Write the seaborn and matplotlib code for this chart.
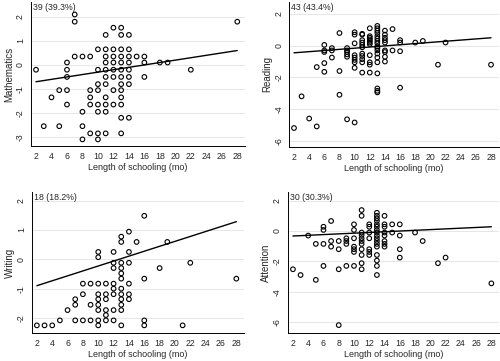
import matplotlib
matplotlib.use("Agg")
import pandas as pd
import matplotlib.pyplot as plt
import seaborn as sns

# ------------------------------------------------------------------
# DATA  (scores grouped by length of schooling in months)
# ------------------------------------------------------------------

MATH = {
    2: [-0.2], 3: [-2.55], 4: [-1.35], 5: [-1.05, -2.55],
    6: [0.1, -0.2, -0.5, -1.05, -1.65], 7: [2.1, 1.8, 0.35],
    8: [0.35, -1.95, -2.55, -3.1], 9: [0.35, -1.05, -1.35, -1.65, -2.85],
    10: [0.65, -0.2, -0.8, -1.05, -1.65, -1.95, -2.85, -3.1],
    11: [1.25, 0.65, 0.35, 0.1, -0.2, -0.5, -0.8, -1.35, -1.65, -1.95, -2.85],
    12: [1.55, 0.65, 0.35, 0.1, -0.2, -0.5, -1.05, -1.65],
    13: [1.55, 1.25, 0.65, 0.35, 0.1, -0.2, -0.5, -0.8, -1.05, -1.35,
         -1.65, -2.2, -2.85],
    14: [1.25, 0.65, 0.35, 0.1, -0.2, -0.5, -0.8, -2.2],
    15: [0.35], 16: [0.35, 0.1, -0.5], 18: [0.1], 19: [0.1], 22: [-0.2],
    28: [1.8],
}
MATH_FIT = [-0.70, 0.60]

READING = {
    2: [-5.2], 3: [-3.2], 4: [-4.6], 5: [-1.35, -5.1],
    6: [0.05, -0.3, -0.4, -1.1, -1.65], 7: [-0.15, -0.3, -0.75],
    8: [0.8, -1.6, -3.1], 9: [-0.15, -0.3, -0.4, -0.55, -0.7, -4.65],
    10: [0.85, 0.7, 0.15, -0.6, -0.75, -0.9, -1.05, -1.4, -4.85],
    11: [0.75, 0.7, 0.35, 0.2, 0.05, -0.1, -0.5, -0.65, -0.85, -1.05, -1.7],
    12: [1.1, 0.6, 0.5, 0.4, 0.3, 0.2, 0.1, -0.6, -1.05, -1.2, -1.7],
    13: [1.25, 1.1, 0.95, 0.8, 0.6, 0.45, 0.3, 0.15, -0.05, -0.15, -0.3,
         -0.5, -0.75, -1.05, -1.75, -2.7, -2.85, -2.95],
    14: [0.95, 0.7, 0.5, 0.35, 0.2, -0.3, -0.4, -0.7, -1.0],
    15: [1.05, -0.3], 16: [0.35, 0.2, -0.35, -2.65], 18: [0.2], 19: [0.3],
    21: [-1.2], 22: [0.2], 28: [-1.2],
}
READING_FIT = [-0.45, 0.50]

WRITING = {
    2: [-2.25], 3: [-2.25], 4: [-2.25], 5: [-2.08], 6: [-1.73],
    7: [-1.36, -1.55, -2.08], 8: [-0.83, -1.19, -2.08], 9: [-0.83, -1.55, -2.08],
    10: [0.25, 0.07, -0.83, -1.19, -1.36, -1.55, -1.73, -2.08, -2.25],
    11: [-0.83, -1.19, -1.36, -1.73, -1.9, -2.08],
    12: [0.25, -0.12, -0.3, -0.83, -1.0, -1.19, -1.73, -2.08],
    13: [0.77, 0.59, -0.12, -0.3, -0.48, -0.66, -1.0, -1.19, -1.36, -1.55,
         -1.73, -2.25],
    14: [0.94, 0.25, -0.12, -0.83, -1.19, -1.36],
    15: [0.59], 16: [1.48, -0.66, -2.08, -2.25], 18: [-0.3], 19: [0.59],
    21: [-2.25], 22: [-0.12], 28: [-0.66],
}
WRITING_FIT = [-0.90, 1.28]

ATTENTION = {
    2: [-2.52], 3: [-2.9], 4: [-0.3], 5: [-0.85, -3.22],
    6: [0.28, 0.07, -0.85, -2.3], 7: [0.66, -0.66, -1.03],
    8: [-0.66, -1.2, -2.52, -6.2], 9: [-0.48, -0.66, -0.85, -2.3],
    10: [0.44, 0.07, -0.48, -1.03, -1.2, -1.38, -2.3],
    11: [1.38, 1.0, -0.1, -0.26, -0.48, -0.66, -0.85, -1.2, -1.58, -2.12, -2.52],
    12: [0.44, 0.28, -0.1, -0.48, -1.2, -1.38, -1.58],
    13: [1.2, 1.0, 0.83, 0.66, 0.44, 0.28, 0.07, -0.1, -0.3, -0.48, -0.66,
         -0.85, -1.03, -1.58, -1.95, -2.3, -2.9],
    14: [1.0, 0.44, 0.28, -0.1, -0.3, -0.66, -0.85, -1.03],
    15: [0.44, -0.1], 16: [0.44, -0.3, -1.2, -1.75], 18: [-0.1], 19: [-0.66],
    21: [-2.12], 22: [-1.75], 28: [-3.45],
}
ATTENTION_FIT = [-0.33, 0.28]

FIT_X = [2, 28]
MONTH_TICKS = list(range(2, 29, 2))

LABELS = ["Mathematics", "Reading", "Writing", "Attention"]
COUNTS = ["39 (39.3%)", "43 (43.4%)", "18 (18.2%)", "30 (30.3%)"]
Y_TICKS = [[-3, -2, -1, 0, 1, 2], [-6, -4, -2, 0, 2],
           [-2, -1, 0, 1, 2], [-6, -4, -2, 0, 2]]

# ------------------------------------------------------------------
# LAYOUT (pixel boxes: left, right, top, bottom) and y ranges
# ------------------------------------------------------------------

W, H = 500, 361
BOXES = [(30.6, 245, 2, 146), (288.7, 498.6, 2, 146.7),
         (31.5, 244, 192, 333), (287.6, 499, 192, 333)]
YLIMS = [(-3.375, 2.62), (-6.38, 2.76), (-2.51, 2.29), (-6.72, 2.57)]
XLIM = (1.3, 29.0)

sns.set_style("white")
plt.rcParams["font.family"] = ["Liberation Sans", "DejaVu Sans"]
plt.rcParams["font.size"] = 6.3


def to_frame(groups: dict) -> pd.DataFrame:
    rows = [(m, v) for m, vals in groups.items() for v in vals]
    return pd.DataFrame(rows, columns=["months", "score"])


def draw_panel(fig, box, ylim, groups, fit, ylabel, count, yticks):
    l, r, t, b = box
    ax = fig.add_axes([l / W, 1 - b / H, (r - l) / W, (b - t) / H])
    df = to_frame(groups)

    for y in yticks:
        ax.axhline(y, color="#e6e6e6", lw=0.7, zorder=0)

    sns.scatterplot(data=df, x="months", y="score", ax=ax, marker="o",
                    s=11, facecolor="none", edgecolor="black",
                    linewidth=0.8, zorder=3)
    sns.lineplot(x=FIT_X, y=fit, ax=ax, color="black", lw=1.0, zorder=4)

    ax.set_xlim(*XLIM)
    ax.set_ylim(*ylim)
    ax.set_xticks(MONTH_TICKS)
    ax.set_yticks(yticks)
    ax.set_yticklabels([str(v) for v in yticks], rotation=90, va="center")
    ax.tick_params(axis="both", direction="out", length=3, width=0.7,
                   color="black", labelsize=6.3)
    ax.tick_params(axis="y", pad=1.0)
    ax.tick_params(axis="x", pad=1.5)

    for side in ["top", "right"]:
        ax.spines[side].set_visible(False)
    for side in ["left", "bottom"]:
        ax.spines[side].set_color("black")
        ax.spines[side].set_linewidth(0.7)

    ax.set_xlabel("Length of schooling (mo)", fontsize=6.5, labelpad=1.5)
    ax.set_ylabel(ylabel, fontsize=7.0, labelpad=1.5)
    ax.annotate(count, xy=(0, 1), xycoords="axes fraction",
                xytext=(2, -0.5), textcoords="offset points",
                ha="left", va="top", fontsize=6.3)
    return ax


def main():
    fig = plt.figure(figsize=(W / 100, H / 100), dpi=100)
    data = [MATH, READING, WRITING, ATTENTION]
    fits = [MATH_FIT, READING_FIT, WRITING_FIT, ATTENTION_FIT]
    for i in range(4):
        draw_panel(fig, BOXES[i], YLIMS[i], data[i], fits[i],
                   LABELS[i], COUNTS[i], Y_TICKS[i])
    fig.savefig("out.png", dpi=100)
    plt.close(fig)


if __name__ == "__main__":
    main()
